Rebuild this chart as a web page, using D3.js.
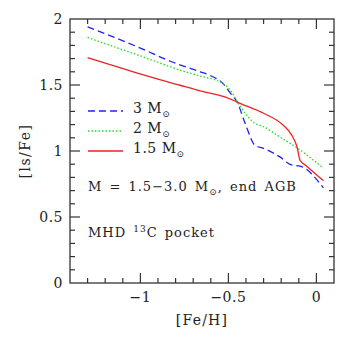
<!DOCTYPE html>
<html>
<head>
<meta charset="utf-8">
<script src="https://cdn.jsdelivr.net/npm/d3@7"></script>
<style>
  body { margin: 0; background: #fff; }
  svg text { font-family: "DejaVu Serif", serif; fill: #222; }
</style>
</head>
<body>
<div id="chart"></div>
<script>
// [Fe/H] vs [ls/Fe]
const fe3 = [-1.3, -1.0, -0.83, -0.66, -0.6, -0.53, -0.49, -0.45, -0.405, -0.35, -0.30, -0.21, -0.14, -0.093, 0.04];
const ls3 = [1.94, 1.78, 1.68, 1.60, 1.57, 1.51, 1.44, 1.37, 1.21, 1.045, 1.02, 0.957, 0.894, 0.886, 0.72];

const fe2 = [-1.3, -1.0, -0.72, -0.66, -0.53, -0.49, -0.434, -0.35, -0.30, -0.21, -0.12, 0.04];
const ls2 = [1.86, 1.72, 1.59, 1.568, 1.51, 1.462, 1.34, 1.21, 1.184, 1.108, 1.033, 0.87];

const fe15 = [-1.3, -1.04, -0.78, -0.66, -0.52, -0.434, -0.30, -0.19, -0.14, -0.11, -0.093, -0.055, 0.04];
const ls15 = [1.707, 1.60, 1.50, 1.455, 1.41, 1.361, 1.286, 1.197, 1.12, 1.03, 0.93, 0.885, 0.775];

const seriesNames = ["3", "2", "1.5"];
const xTicks = [-1, -0.5, 0];
const yTicks = [0, 0.5, 1, 1.5, 2];

const width = 353, height = 353;
const margin = { top: 19, right: 19, bottom: 70, left: 70 };

const svg = d3.select('#chart')
    .append('svg')
    .attr('width', width)
    .attr('height', height);

const x = d3.scaleLinear().domain([-1.4, 0.1]).range([margin.left, width - margin.right]);
const y = d3.scaleLinear().domain([0, 2]).range([height - margin.bottom, margin.top]);

const fmt = d => d === 0 ? "0" : d3.format("")(d).replace("-", "\u2212");

// frame
svg.append("rect")
    .attr("x", x(-1.4)).attr("y", y(2))
    .attr("width", x(0.1) - x(-1.4)).attr("height", y(0) - y(2))
    .attr("fill", "none").attr("stroke", "#333").attr("stroke-width", 1.3);

// ticks on all four sides, pointing in
const minorX = d3.range(-14, 2).map(i => i / 10).filter(v => v > -1.4 && v < 0.1);
const minorY = d3.range(1, 20).map(i => i / 10);
const isMajor = v => Math.abs(v * 2 - Math.round(v * 2)) < 1e-6;

const ticks = svg.append("g").attr("stroke", "#333").attr("stroke-width", 1.2);
minorX.forEach(v => {
    const len = isMajor(v) ? 10 : 5;
    ticks.append("line").attr("x1", x(v)).attr("x2", x(v)).attr("y1", y(0)).attr("y2", y(0) - len);
    ticks.append("line").attr("x1", x(v)).attr("x2", x(v)).attr("y1", y(2)).attr("y2", y(2) + len);
});
minorY.forEach(v => {
    const len = isMajor(v) ? 10 : 5;
    ticks.append("line").attr("y1", y(v)).attr("y2", y(v)).attr("x1", x(-1.4)).attr("x2", x(-1.4) + len);
    ticks.append("line").attr("y1", y(v)).attr("y2", y(v)).attr("x1", x(0.1)).attr("x2", x(0.1) - len);
});

// tick labels
svg.append("g").selectAll("text")
    .data(xTicks)
    .join("text")
    .attr("x", d => x(d))
    .attr("y", y(0) + 19)
    .attr("text-anchor", "middle")
    .style("font-size", "14px")
    .style("letter-spacing", "0.5px")
    .text(fmt);

svg.append("g").selectAll("text")
    .data(yTicks)
    .join("text")
    .attr("x", x(-1.4) - 7)
    .attr("y", d => y(d) + 5)
    .attr("text-anchor", "end")
    .style("font-size", "14px")
    .style("letter-spacing", "0.5px")
    .text(fmt);

// axis titles
svg.append("text")
    .attr("x", (x(-1.4) + x(0.1)) / 2)
    .attr("y", y(0) + 42)
    .attr("text-anchor", "middle")
    .style("font-size", "14px")
    .style("letter-spacing", "1.2px")
    .text("[Fe/H]");

svg.append("text")
    .attr("transform", `translate(30,${(y(0) + y(2)) / 2}) rotate(-90)`)
    .attr("text-anchor", "middle")
    .style("font-size", "14px")
    .style("letter-spacing", "1.5px")
    .text("[ls/Fe]");

// curves
const series = [
    { fe: fe3, ls: ls3, color: "#2222ee", dash: "7,4" },
    { fe: fe2, ls: ls2, color: "#22dd22", dash: "1.5,2" },
    { fe: fe15, ls: ls15, color: "#ee2222", dash: null }
];

const line = d3.line()
    .x(d => x(d[0]))
    .y(d => y(d[1]))
    .curve(d3.curveMonotoneX);

series.forEach(s => {
    svg.append("path")
        .datum(s.fe.map((f, i) => [f, s.ls[i]]))
        .attr("d", line)
        .attr("fill", "none")
        .attr("stroke", s.color)
        .attr("stroke-width", 1.3)
        .attr("stroke-dasharray", s.dash);
});

// legend
series.forEach((s, i) => {
    const ly = 111 + i * 20;
    svg.append("line")
        .attr("x1", 88).attr("x2", 123)
        .attr("y1", ly).attr("y2", ly)
        .attr("stroke", s.color)
        .attr("stroke-width", 1.3)
        .attr("stroke-dasharray", s.dash);
    const t = svg.append("text")
        .attr("x", 133).attr("y", ly + 2)
        .style("font-size", "14px")
        .style("letter-spacing", "0.5px");
    t.append("tspan").text(seriesNames[i] + " M");
    t.append("tspan").attr("dy", 4).style("font-size", "9px").text("\u2299");
});

// annotations
const a1 = svg.append("text").attr("x", 88).attr("y", 191)
    .style("font-size", "13px").style("letter-spacing", "1px").style("word-spacing", "2px");
a1.append("tspan").text("M = 1.5\u22123.0 M");
a1.append("tspan").attr("dy", 4).style("font-size", "9px").text("\u2299");
a1.append("tspan").attr("dy", -4).text(", end AGB");

const a2 = svg.append("text").attr("x", 88).attr("y", 237)
    .style("font-size", "13px").style("letter-spacing", "1px").style("word-spacing", "2px");
a2.append("tspan").text("MHD ");
a2.append("tspan").attr("dy", -5).style("font-size", "9px").text("13");
a2.append("tspan").attr("dy", 5).text("C pocket");
</script>
</body>
</html>
